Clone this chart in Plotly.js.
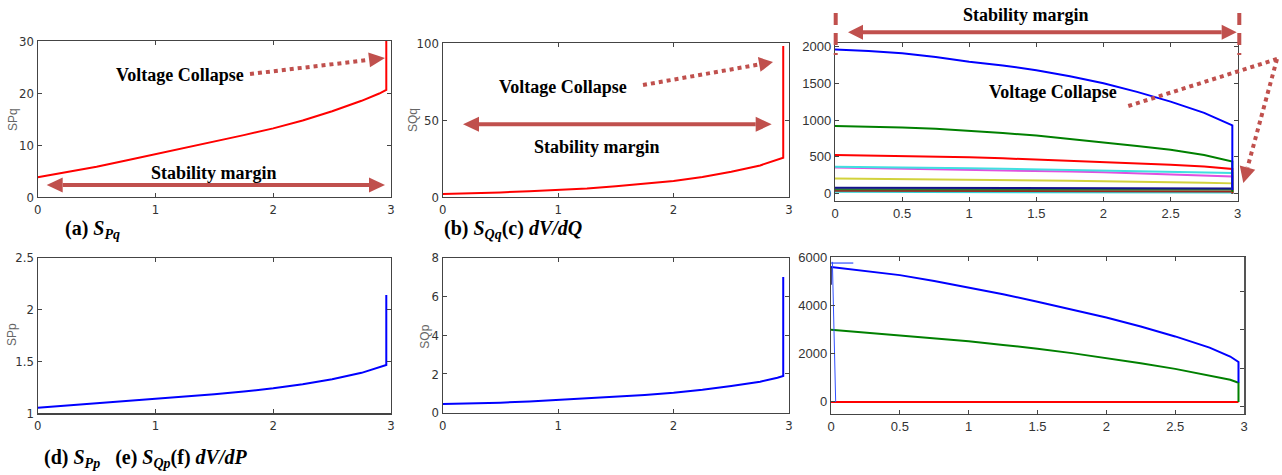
<!DOCTYPE html>
<html>
<head>
<meta charset="utf-8">
<script src="https://cdn.plot.ly/plotly-3.0.1.min.js"></script>
<style>html,body{margin:0;padding:0;background:#fff;}#chart{width:1282px;height:475px;}</style>
</head>
<body>
<div id="chart"></div>
<script>
// ---------------- DATA ----------------
// (a) S_Pq
const xA = [0, 0.25, 0.5, 0.75, 1, 1.25, 1.5, 1.75, 2, 2.25, 2.5, 2.75, 2.9, 2.96, 2.96];
const sPq = [3.8, 4.8, 5.8, 7.0, 8.2, 9.4, 10.7, 11.9, 13.2, 14.7, 16.5, 18.5, 19.9, 20.6, 30];
// (b) S_Qq
const xB = [0, 0.25, 0.5, 0.75, 1, 1.25, 1.5, 1.75, 2, 2.25, 2.5, 2.75, 2.9, 2.95, 2.95];
const sQq = [2, 2.4, 3, 3.7, 4.5, 5.6, 7, 8.6, 10.4, 13, 16.4, 20.5, 24, 25.5, 98];
// (c) dV/dQ  (several buses)
const xC = [0, 0.25, 0.5, 0.75, 1, 1.25, 1.5, 1.75, 2, 2.25, 2.5, 2.75, 2.96, 2.96];
const dVdQ_blue    = [1960, 1942, 1909, 1860, 1795, 1745, 1680, 1598, 1502, 1385, 1252, 1100, 930, 50];
const dVdQ_green   = [922, 913, 900, 882, 859, 826, 790, 745, 696, 648, 597, 525, 438, 20];
const dVdQ_red     = [525, 519, 512, 504, 495, 481, 465, 448, 430, 412, 393, 368, 335, 10];
const dVdQ_cyan    = [365, 362, 360, 352, 345, 338, 330, 322, 315, 308, 300, 290, 280, 10];
const dVdQ_magenta = [355, 348, 340, 335, 330, 320, 310, 300, 290, 278, 265, 250, 235, 10];
const dVdQ_yellow  = [205, 202, 200, 195, 190, 185, 180, 175, 170, 165, 160, 150, 140, 10];
const dVdQ_navy    = [80, 80, 80, 80, 80, 80, 80, 79, 78, 76, 75, 72, 70, 5];
const dVdQ_dkgreen = [60, 60, 60, 59, 58, 58, 58, 57, 56, 56, 56, 55, 55, 5];
const dVdQ_brown   = [40, 40, 40, 40, 40, 40, 40, 38, 35, 32, 30, 30, 30, 0];
const dVdQ_cyan2   = [25, 25, 25, 25, 25, 22, 20, 20, 20, 17, 15, 15, 15, 0];
// (d) S_Pp
const xD = [0, 0.25, 0.5, 0.75, 1, 1.25, 1.5, 1.75, 2, 2.25, 2.5, 2.75, 2.9, 2.96, 2.96];
const sPp = [1.054, 1.075, 1.096, 1.115, 1.135, 1.158, 1.183, 1.21, 1.241, 1.28, 1.328, 1.39, 1.44, 1.466, 2.14];
// (e) S_Qp
const xE = [0, 0.25, 0.5, 0.75, 1, 1.25, 1.5, 1.75, 2, 2.25, 2.5, 2.75, 2.9, 2.95, 2.95];
const sQp = [0.45, 0.48, 0.52, 0.58, 0.66, 0.74, 0.83, 0.92, 1.03, 1.18, 1.38, 1.6, 1.8, 1.89, 7.0];
// (f) dV/dP
const xF = [0, 0.25, 0.5, 0.75, 1, 1.25, 1.5, 1.75, 2, 2.25, 2.5, 2.75, 2.9, 2.96, 2.96];
const dVdP_blue  = [5590, 5430, 5250, 5010, 4740, 4460, 4150, 3830, 3494, 3120, 2712, 2250, 1880, 1656, 800];
const dVdP_green = [2988, 2870, 2740, 2630, 2507, 2360, 2206, 2020, 1821, 1600, 1369, 1100, 920, 793, 0];
const xF_red = [0, 2.96];
const dVdP_red   = [0, 0];
const xF_spike = [0.01, 0.034];
const dVdP_spike = [5800, 0];
const xF_top = [0, 0.162];
const dVdP_top = [5750, 5750];
const xF_navy = [0, 0];
const dVdP_navy = [4850, 5550];

// axis tick values
const ticksInt = [0, 1, 2, 3];
const tickTextInt = ['0', '1', '2', '3'];
const ticksHalf = [0, 0.5, 1, 1.5, 2, 2.5, 3];
const tickTextHalf = ['0', '0.5', '1', '1.5', '2', '2.5', '3'];

// ---------------- LAYOUT HELPERS ----------------
const W = 1282, H = 475;
const px = x => x / W;
const py = y => 1 - y / H;
const dx = (l, r) => [l / W, r / W];
const dy = (t, b) => [1 - b / H, 1 - t / H];

const ARROW = '#c0504d';
const narrow = 'Liberation Sans Narrow, DejaVu Sans Condensed, Arial Narrow, sans-serif';
const sans = 'Liberation Sans, Arial, sans-serif';
const serif = 'Liberation Serif, Times New Roman, serif';

function xax(dom, anchor, vals, text, fam) {
  return {domain: dom, anchor: anchor, range: [0, 3], tickvals: vals, ticktext: text,
    ticks: 'inside', ticklen: 4, tickcolor: '#444', showline: true, linecolor: '#444', linewidth: 1.2,
    mirror: 'ticks', showgrid: false, zeroline: false, fixedrange: true,
    tickfont: {family: fam, size: 13, color: '#333'}};
}
function yax(dom, anchor, range, dtick, fam, mirror) {
  return {domain: dom, anchor: anchor, range: range, dtick: dtick, tick0: 0,
    ticks: 'inside', ticklen: 4, tickcolor: '#444', showline: true, linecolor: '#444', linewidth: 1.2,
    mirror: mirror === undefined ? 'ticks' : mirror, showgrid: false, zeroline: false, fixedrange: true,
    tickfont: {family: fam, size: 13, color: '#333'}};
}

function tr(x, y, xa, ya, color, width) {
  return {x: x, y: y, xaxis: xa, yaxis: ya, type: 'scatter', mode: 'lines',
    line: {color: color, width: width || 2}, hoverinfo: 'skip', showlegend: false};
}

const data = [
  tr(xA, sPq, 'x', 'y', '#ff0000'),
  tr(xB, sQq, 'x2', 'y2', '#ff0000'),
  tr(xC, dVdQ_cyan2, 'x3', 'y3', '#30d8d8'),
  tr(xC, dVdQ_brown, 'x3', 'y3', '#a0281e'),
  tr(xC, dVdQ_dkgreen, 'x3', 'y3', '#2e7d32'),
  tr(xC, dVdQ_navy, 'x3', 'y3', '#14148c'),
  tr(xC, dVdQ_yellow, 'x3', 'y3', '#d2d23c'),
  tr(xC, dVdQ_magenta, 'x3', 'y3', '#e050e0'),
  tr(xC, dVdQ_cyan, 'x3', 'y3', '#40e0e0'),
  tr(xC, dVdQ_red, 'x3', 'y3', '#ff0000'),
  tr(xC, dVdQ_green, 'x3', 'y3', '#008000'),
  tr(xC, dVdQ_blue, 'x3', 'y3', '#0000ff'),
  tr(xD, sPp, 'x4', 'y4', '#0000ff'),
  tr(xE, sQp, 'x5', 'y5', '#0000ff'),
  tr(xF_red, dVdP_red, 'x6', 'y6', '#ff0000'),
  tr(xF, dVdP_green, 'x6', 'y6', '#008000'),
  tr(xF, dVdP_blue, 'x6', 'y6', '#0000ff'),
  tr(xF_spike, dVdP_spike, 'x6', 'y6', '#3050ff', 1),
  tr(xF_top, dVdP_top, 'x6', 'y6', '#3050ff', 1.2),
  tr(xF_navy, dVdP_navy, 'x6', 'y6', '#000060', 1.5),
  {x: [], y: [], xaxis: 'x6', yaxis: 'y7', type: 'scatter', mode: 'lines', showlegend: false, hoverinfo: 'skip'}
];

// ---------------- DECORATION SHAPES ----------------
const shapes = [];
function seg(x0, y0, x1, y1, width, dash) {
  shapes.push({type: 'line', xref: 'paper', yref: 'paper', x0: px(x0), y0: py(y0), x1: px(x1), y1: py(y1),
    line: {color: ARROW, width: width, dash: dash || 'solid'}});
}
function head(tx, ty, fx, fy, L, w) {
  let vx = tx - fx, vy = ty - fy; const n = Math.hypot(vx, vy); vx /= n; vy /= n;
  const bx = tx - L * vx, by = ty - L * vy;
  const nx = -vy, ny = vx;
  const p = [[tx, ty], [bx + w * nx, by + w * ny], [bx - w * nx, by - w * ny]];
  const path = 'M ' + p.map(q => px(q[0]) + ',' + py(q[1])).join(' L ') + ' Z';
  shapes.push({type: 'path', xref: 'paper', yref: 'paper', path: path, fillcolor: ARROW, line: {width: 0}});
  return [bx, by];
}
function arrow(x0, y0, x1, y1, width, dash, L, w, both) {
  let s0 = [x0, y0];
  const e = head(x1, y1, x0, y0, L, w);
  if (both) s0 = head(x0, y0, x1, y1, L, w);
  seg(s0[0], s0[1], e[0], e[1], width, dash);
}

// (a)
arrow(250, 74, 385, 58, 4, 'dot', 16, 7.5, false);
arrow(46.7, 185, 385, 185, 4, 'solid', 16, 7.5, true);
// (b)
arrow(643, 85, 773, 62, 4, 'dot', 14, 7.5, false);
arrow(463, 124.3, 771.7, 124.3, 4, 'solid', 16, 7.5, true);
// (c)
arrow(848, 32.3, 1236.7, 32.3, 4, 'solid', 15, 7.5, true);
seg(835.7, 13, 835.7, 55, 4, '12px,8px');
seg(1239.3, 13, 1239.3, 55, 4, '12px,8px');
seg(1128.3, 106, 1277, 59, 4, 'dot');
arrow(1277, 59, 1243.3, 183, 4, 'dot', 16, 8, false);

// ---------------- TEXT ----------------
function txt(x, y, t, size, fam, color, angle) {
  return {xref: 'paper', yref: 'paper', x: px(x), y: py(y), text: t, showarrow: false,
    xanchor: 'center', yanchor: 'middle', textangle: angle || 0,
    font: {family: fam, size: size, color: color || '#000'}};
}
const annotations = [
  txt(180, 75, '<b>Voltage Collapse</b>', 18, serif),
  txt(214, 172.7, '<b>Stability margin</b>', 18, serif),
  txt(562.5, 86.7, '<b>Voltage Collapse</b>', 18, serif),
  txt(596.7, 146.7, '<b>Stability margin</b>', 18, serif),
  txt(1025.8, 15, '<b>Stability margin</b>', 18, serif),
  txt(1052.5, 91.7, '<b>Voltage Collapse</b>', 18, serif),
  Object.assign(txt(63, 229.5, '<b>(a) <i>S<sub>Pq</sub></i></b>', 20, serif), {xanchor: 'left'}),
  Object.assign(txt(441.7, 229.5, '<b>(b) <i>S<sub>Qq</sub></i>(c) <i>dV/dQ</i></b>', 20, serif), {xanchor: 'left'}),
  Object.assign(txt(41.7, 458.3, '<b>(d) <i>S<sub>Pp</sub></i>&nbsp;&nbsp;&nbsp;(e) <i>S<sub>Qp</sub></i>(f) <i>dV/dP</i></b>', 20, serif), {xanchor: 'left'}),
  txt(13, 120, 'SPq', 12, sans, '#666', -90),
  txt(413, 120, 'SQq', 12, sans, '#666', -90),
  txt(12, 335, 'SPp', 12, sans, '#666', -90),
  txt(425, 336.7, 'SQp', 12, sans, '#666', -90)
];

const layout = {
  width: W, height: H, margin: {l: 0, r: 0, t: 0, b: 0},
  paper_bgcolor: '#fff', plot_bgcolor: '#fff', showlegend: false, hovermode: false,
  xaxis:  xax(dx(37.7, 391), 'y', ticksInt, tickTextInt, narrow),
  yaxis:  yax(dy(41, 197), 'x', [0, 30], 10, narrow),
  xaxis2: xax(dx(442.7, 789), 'y2', ticksInt, tickTextInt, narrow),
  yaxis2: yax(dy(43, 197), 'x2', [0, 100], 50, narrow),
  xaxis3: xax(dx(835, 1237.7), 'y3', ticksHalf, tickTextHalf, sans),
  yaxis3: yax(dy(43, 201), 'x3', [-100, 2050], 500, sans),
  xaxis4: xax(dx(37.7, 391), 'y4', ticksInt, tickTextInt, narrow),
  yaxis4: yax(dy(257.7, 413.3), 'x4', [1, 2.5], 0.5, narrow),
  xaxis5: xax(dx(442.7, 789), 'y5', ticksInt, tickTextInt, narrow),
  yaxis5: yax(dy(257.7, 412.7), 'x5', [0, 8], 2, narrow),
  xaxis6: xax(dx(831, 1244), 'y6', ticksHalf, tickTextHalf, sans),
  yaxis6: yax(dy(257, 414), 'x6', [-500, 6000], 2000, sans, false),
  yaxis7: {overlaying: 'y6', side: 'right', anchor: 'x6', range: [-0.21, 3.92], dtick: 1, tick0: 0,
    ticks: 'inside', ticklen: 4, tickcolor: '#444', showticklabels: false, showline: true,
    linecolor: '#555', linewidth: 1.5, showgrid: false, zeroline: false, fixedrange: true},
  shapes: shapes,
  annotations: annotations
};

Plotly.newPlot('chart', data, layout, {staticPlot: true, displayModeBar: false});
</script>
</body>
</html>
